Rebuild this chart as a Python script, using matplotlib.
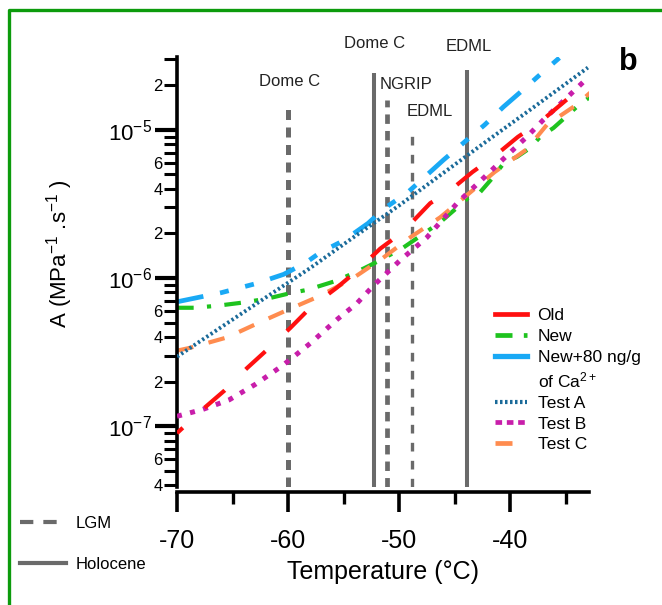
import numpy as np
import matplotlib
matplotlib.use('Agg')
import matplotlib.pyplot as plt
from matplotlib.lines import Line2D
from matplotlib.ticker import LogLocator, FuncFormatter, LogFormatterMathtext, MultipleLocator

plt.rcParams['font.family'] = ['Liberation Sans', 'DejaVu Sans']
plt.rcParams['mathtext.fontset'] = 'custom'
plt.rcParams['mathtext.rm'] = 'Liberation Sans'
plt.rcParams['mathtext.it'] = 'Liberation Sans:italic'
plt.rcParams['mathtext.bf'] = 'Liberation Sans:bold'
plt.rcParams['axes.unicode_minus'] = False

# --- data (temperature in degC, A in MPa^-1 s^-1) ---
old_T = [-70, -67.7, -65.7, -63.7, -61.8, -59.8, -58.0, -55.6, -53.8, -51.7,
         -49.7, -47.2, -45.7, -43.4, -41.5, -39.3, -37.3, -34.9, -32.8]
old_A = [9.0e-8, 1.30e-7, 1.75e-7, 2.47e-7, 3.33e-7, 4.61e-7, 6.31e-7, 8.63e-7, 1.12e-6, 1.58e-6,
         2.04e-6, 3.20e-6, 3.74e-6, 5.19e-6, 6.56e-6, 8.97e-6, 1.13e-5, 1.60e-5, 2.02e-5]

new_T = [-70, -68.4, -66.3, -64.2, -61.9, -60.0, -58.2, -55.6, -53.2, -51.7, -49.6, -46.3,
         -43.8, -42.7, -41.6, -40.5, -39.4, -38.2, -37.3, -36.1, -35.0, -34.0, -32.8]
new_A = [6.31e-7, 6.31e-7, 6.52e-7, 6.82e-7, 7.26e-7, 7.85e-7, 8.36e-7, 9.62e-7, 1.16e-6, 1.32e-6, 1.61e-6, 2.38e-6,
         3.46e-6, 3.80e-6, 4.73e-6, 6.07e-6, 6.56e-6, 7.55e-6, 8.97e-6, 1.03e-5, 1.22e-5, 1.43e-5, 1.67e-5]

ca_T = [-70, -66, -62.9, -60.4, -58.4, -57.1, -55.0, -52.8, -51.3, -49.2, -46.0, -44.2,
        -42.3, -40.6, -38.6, -37.5, -35.5]
ca_A = [6.92e-7, 7.98e-7, 9.18e-7, 1.06e-6, 1.27e-6, 1.49e-6, 1.79e-6, 2.34e-6, 2.96e-6, 3.80e-6, 6.27e-6, 8.17e-6,
        1.08e-5, 1.43e-5, 1.93e-5, 2.29e-5, 3.09e-5]

testA_T = [-70, -66, -62, -58, -54, -50, -46, -42, -38, -33]
testA_A = [2.95e-7, 4.68e-7, 7.41e-7, 1.17e-6, 1.91e-6, 3.09e-6, 5.13e-6, 8.51e-6, 1.40e-5, 2.63e-5]

testB_T = [-70, -67.7, -65.3, -62.9, -60.5, -58.0, -55.6, -53.8, -52.3, -49.9, -47.5, -44.7,
           -42.4, -40.7, -38.5, -37.0, -34.6, -33.0]
testB_A = [1.17e-7, 1.30e-7, 1.51e-7, 1.93e-7, 2.57e-7, 3.63e-7, 5.25e-7, 6.76e-7, 8.91e-7, 1.32e-6, 1.88e-6, 3.25e-6,
           4.73e-6, 6.27e-6, 8.97e-6, 1.17e-5, 1.73e-5, 2.25e-5]

testC_T = [-70, -68.8, -65.5, -62.3, -59.9, -57.1, -54.2, -51.5, -49.0, -46.3, -44.1, -41.4,
           -38.5, -36.7, -34.0, -32.8]
testC_A = [3.24e-7, 3.39e-7, 3.98e-7, 5.13e-7, 6.17e-7, 7.60e-7, 9.93e-7, 1.36e-6, 1.88e-6, 2.57e-6, 3.52e-6, 5.19e-6,
           7.4e-6, 1.08e-5, 1.48e-5, 1.78e-5]

# ice core sites: temperature and top of the marker line
site_names = ['Dome C', 'Dome C', 'NGRIP', 'EDML', 'EDML']
site_period = ['LGM', 'Holocene', 'LGM', 'LGM', 'Holocene']
site_temp = [-60.0, -52.3, -51.1, -48.8, -43.9]
site_top = [1.48e-5, 2.43e-5, 1.6e-5, 1.05e-5, 2.55e-5]

ymin, ymax = 3.9e-8, 3.1e-5
gray = '#6a6a6a'

fig = plt.figure(figsize=(6.62, 6.05), dpi=100)
ax = fig.add_axes([177/662, 1-487/605, 412/662, 430/605])

# site lines
lgm_style = [(0, (2.0, 1.5)), None, (0, (2.0, 1.5)), (0, (2.6, 2.8)), None]
lgm_lw = [3.6, 2.9, 3.4, 2.4, 2.9]
for i in range(len(site_temp)):
    ls = lgm_style[i] if site_period[i] == 'LGM' else '-'
    ax.plot([site_temp[i], site_temp[i]], [ymin, site_top[i]], color=gray,
            lw=lgm_lw[i], linestyle=ls, solid_capstyle='butt', dash_capstyle='butt', zorder=1)

# site labels (x in degC, y in A units)
label_pos = [(-59.9, 2.11e-5), (-52.2, 3.83e-5), (-49.4, 2.02e-5), (-47.2, 1.32e-5), (-43.7, 3.66e-5)]
for name, (lx, ly) in zip(site_names, label_pos):
    ax.text(lx, ly, name, ha='center', va='center', fontsize=12, color='#222222', clip_on=False)

# curves
ax.plot(testA_T, testA_A, color='#1a6a99', lw=2.8, linestyle=(0, (0.6, 0.7)), zorder=3)
ax.plot(ca_T, ca_A, color='#19a9f5', lw=3.4, linestyle=(0, (5.7, 3.6, 1.9, 3.6, 1.9, 3.6)),
        dash_capstyle='butt', zorder=2)
ax.plot(new_T, new_A, color='#1ec31e', lw=3.0, linestyle=(0, (4.0, 3.2, 1.0, 3.2)), zorder=2)
ax.plot(testC_T, testC_A, color='#ff8c4f', lw=3.0, linestyle=(0, (4.0, 3.8)), zorder=2)
ax.plot(old_T, old_A, color='#ff1010', lw=3.0, linestyle=(4.5, (6.4, 7.1)), zorder=4)
ax.plot(testB_T, testB_A, color='#c81eaa', lw=3.6, linestyle=(0, (1.0, 1.7)), zorder=3)

ax.set_yscale('log')
ax.set_ylim(ymin, ymax)
ax.set_xlim(-70, -32.9)

for s in ['top', 'right']:
    ax.spines[s].set_visible(False)
ax.spines['left'].set_linewidth(2.6)
ax.spines['bottom'].set_linewidth(2.6)
ax.spines['bottom'].set_position(('outward', 3.6))

ax.xaxis.set_major_locator(MultipleLocator(10))
ax.xaxis.set_minor_locator(MultipleLocator(5))
ax.tick_params(axis='x', which='major', length=14.5, width=2.6, labelsize=18, pad=12)
ax.tick_params(axis='x', which='minor', length=8.5, width=2.4)

ax.yaxis.set_major_locator(LogLocator(base=10, numticks=10))
ax.yaxis.set_minor_locator(LogLocator(base=10, subs=np.arange(2, 10), numticks=20))
ax.yaxis.set_major_formatter(LogFormatterMathtext())


def minor_fmt(v, pos):
    m = int(round(v / 10 ** np.floor(np.log10(v) + 1e-9)))
    return str(m) if m in (2, 4, 6) else ''


ax.yaxis.set_minor_formatter(FuncFormatter(minor_fmt))
ax.tick_params(axis='y', which='major', length=16, width=3.0, labelsize=16, pad=2)
ax.tick_params(axis='y', which='minor', length=9.5, width=2.2, labelsize=12, pad=1)

ax.set_xlabel('Temperature (°C)', fontsize=18, labelpad=5.5)
fig.text(60/662, 1-254/605, 'A (MPa$^{-1}$ .s$^{-1}$ )', rotation=90, ha='center', va='center', fontsize=16)

# curve legend (the Ca line gets its own row with an empty handle)
handles = [
    Line2D([], [], color='#ff1010', lw=3.4),
    Line2D([], [], color='#1ec31e', lw=3.4, linestyle=(0, (3.6, 2.4, 0.8, 2.4))),
    Line2D([], [], color='#19a9f5', lw=3.8),
    Line2D([], [], color='none', lw=0),
    Line2D([], [], color='#1a6a99', lw=3.0, linestyle=(0, (0.6, 0.6))),
    Line2D([], [], color='#c81eaa', lw=3.4, linestyle=(0, (1.4, 1.0))),
    Line2D([], [], color='#ff8c4f', lw=3.4, linestyle=(0, (3.6, 20))),
]
labels = ['Old', 'New', 'New+80 ng/g', 'of Ca$^{2+}$', 'Test A', 'Test B', 'Test C']
ax.legend(handles, labels, loc='upper left', bbox_to_anchor=(0.772, 0.416), frameon=False,
          fontsize=12.5, handlelength=1.85, handletextpad=0.6, labelspacing=0.32,
          borderpad=0, borderaxespad=0)

# period legend
period_handles = [
    Line2D([], [], color=gray, lw=3.0, linestyle=(0, (3.2, 2.4))),
    Line2D([], [], color=gray, lw=3.0),
]
fig.legend(period_handles, ['LGM', 'Holocene'], loc='upper left', bbox_to_anchor=(20/662, 1-516/605),
           frameon=False, fontsize=12, handlelength=2.75, handletextpad=0.6, labelspacing=1.54,
           borderpad=0, borderaxespad=0)

fig.text(628/662, 1-62/605, 'b', fontsize=22, fontweight='bold', ha='center', va='center')

# green frame
fig.add_artist(Line2D([0.0136, 0.0136, 1.0], [0.0, 0.984, 0.984], transform=fig.transFigure,
                      color='#0c9b0c', lw=2.4))

fig.savefig('out.png', dpi=100)
